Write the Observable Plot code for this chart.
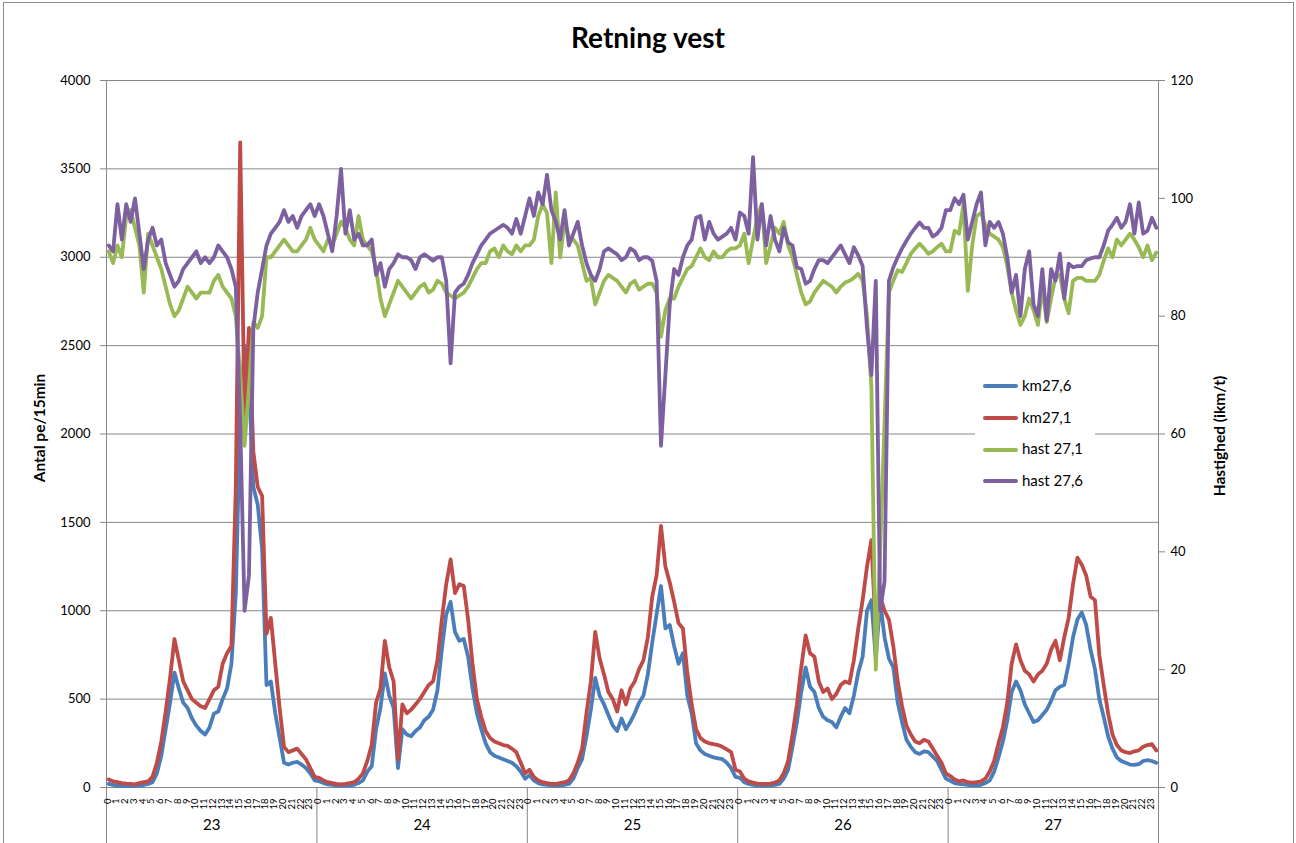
<!DOCTYPE html>
<html><head><meta charset="utf-8">
<script src="https://cdn.jsdelivr.net/npm/d3@7"></script>
<script src="https://cdn.jsdelivr.net/npm/@observablehq/plot@0.6"></script>
<style>
body{margin:0;background:#fff;}
#wrap{position:relative;width:1296px;height:843px;font-family:Lato,"Open Sans",sans-serif;overflow:hidden;}
#border{position:absolute;left:3px;top:2px;right:2px;bottom:-5px;border:1px solid #8c8c8c;pointer-events:none;}
#title{position:absolute;left:0;width:1296px;top:20px;text-align:center;font-weight:bold;font-size:28px;color:#000;}
#legend{position:absolute;left:975px;top:366px;width:120px;height:132px;background:#fff;}
.item{position:absolute;left:8px;height:20px;line-height:20px;font-size:15px;color:#000;white-space:nowrap;}
.sw{display:inline-block;width:35px;height:4px;border-radius:2px;vertical-align:middle;margin-right:4px;position:relative;top:-1px;}
</style></head>
<body><div id="wrap"><div id="border"></div><div id="title">Retning vest</div></div>
<script>
// ---- data (half-hour samples, 48 per day, days 23..27) ----
const days = ["23","24","25","26","27"];
const hourLabels = ["0","1","2","3","4","5","6","7","8","9","10","11","12","13","14","15","16","17","18","19","20","21","22","23"];
const yTicks = [0,500,1000,1500,2000,2500,3000,3500,4000];
const speedTicks = [0,20,40,60,80,100,120];

const km276 = [
 20,15, 12,10, 8,8, 10,10, 15,20, 30,80, 180,330, 480,650, 560,480, 450,390, 350,320, 300,340, 418,430, 500,560, 700,1100, 2100,2500, 2300,1700, 1600,1350, 580,600, 420,280, 140,130, 140,145, 130,110, 80,40,
 35,25, 18,15, 12,10, 10,12, 15,25, 40,90, 120,330, 450,645, 520,450, 110,330, 300,290, 320,340, 380,400, 440,550, 780,980, 1050,880, 830,840, 740,560, 420,330, 250,200, 180,170, 160,150, 140,120, 90,50,
 70,40, 25,18, 15,12, 10,12, 15,20, 50,110, 160,290, 440,620, 520,470, 410,350, 320,390, 330,370, 420,480, 520,640, 820,980, 1140,900, 920,800, 700,760, 520,420, 250,210, 190,180, 170,165, 160,140, 110,60,
 55,30, 20,15, 12,10, 10,12, 15,20, 50,100, 230,370, 540,680, 570,540, 450,400, 380,370, 340,400, 450,420, 520,650, 740,1000, 1060,730, 1050,850, 730,680, 480,370, 270,230, 200,190, 205,200, 175,150, 100,50,
 38,25, 20,18, 15,12, 12,15, 25,40, 90,170, 260,380, 540,600, 550,470, 420,370, 380,410, 440,490, 550,570, 580,700, 850,950, 990,920, 780,670, 500,400, 290,220, 170,150, 140,130, 128,132, 150,155, 150,140
];
const km271 = [
 45,35, 30,25, 22,20, 18,25, 30,35, 60,140, 260,430, 620,840, 720,600, 550,500, 480,460, 450,500, 550,570, 700,760, 800,1700, 3650,2100, 2600,1900, 1700,1650, 870,960, 700,450, 230,200, 210,220, 190,160, 110,60,
 55,40, 30,25, 20,18, 20,25, 30,50, 80,150, 240,480, 560,830, 680,600, 160,470, 420,440, 470,500, 540,580, 600,720, 950,1150, 1290,1100, 1150,1140, 950,700, 500,400, 320,280, 260,250, 240,235, 220,200, 140,80,
 100,60, 40,30, 25,20, 20,25, 30,40, 80,140, 220,420, 600,880, 730,640, 540,500, 430,550, 470,560, 600,670, 720,850, 1080,1200, 1480,1250, 1160,1050, 930,900, 650,470, 330,280, 260,250, 245,240, 230,215, 200,100,
 90,50, 35,28, 22,20, 20,22, 28,40, 80,150, 300,470, 680,860, 760,740, 600,540, 560,500, 530,580, 600,590, 720,900, 1060,1250, 1400,870, 1080,1000, 950,800, 600,460, 350,300, 260,250, 270,260, 220,180, 140,80,
 65,45, 35,40, 30,28, 30,35, 50,90, 150,250, 340,480, 700,810, 720,660, 640,600, 640,660, 700,780, 830,720, 850,960, 1150,1300, 1260,1200, 1080,1060, 750,580, 420,300, 240,210, 200,195, 205,210, 230,240, 245,210
];
const hast271 = [
 91,89, 92,90, 97,98, 95,92, 84,94, 92,90, 88,85, 82,80, 81,83, 85,84, 83,84, 84,84, 86,87, 85,84, 83,80, 70,58, 68,79, 78,80, 90,90, 91,92, 93,92, 91,91, 92,93, 95,93,
 92,91, 93,92, 94,96, 95,93, 92,97, 93,92, 91,88, 83,80, 82,84, 86,85, 84,83, 84,85, 85.5,84, 84.5,86, 85.5,84, 83.5,83, 83.5,84, 85,86.5, 88,89, 89,91, 91.5,90, 92,91, 90.5,92, 91,92,
 92,93, 97,99, 97.5,89, 101,90, 96,93.5, 93,92, 89,86, 86.5,82, 84,86, 87,86.5, 86,85, 84,85.5, 86,84.5, 85,85.5, 85.5,84, 76.5,81, 83,83, 85,86.5, 88,88.5, 90,91.5, 90,89.5, 91,90, 90,91, 91.5,91.5,
 92,94, 89,93, 97,99, 89,92, 95,94, 96,92, 90,87, 84,82, 82.5,84, 85,86, 85.5,85, 84,85, 85.7,86, 86.5,87.2, 86,80, 68,20, 40,62, 84,86, 87.8,87.5, 89,90.6, 91.5,92.3, 91.5,90.6, 91,91.7, 92.3,91,
 91,94.5, 94,99, 84.3,92, 97,97.5, 95.5,94, 93.5,93, 91.7,88.5, 84,81, 78.5,80, 83,81, 78.5,85, 79,83, 86.6,87, 83,80.5, 86,86.5, 86.5,86, 86,86, 87,89.4, 91.5,90, 93,92, 93,94, 93,91.7, 90,92, 89.5,90.8
];
const hast276 = [
 92,91, 99,93, 99,96, 100,94, 88,93, 95,92, 93,89, 87,85, 86,88, 89,90, 91,89, 90,89, 90,92, 91,90, 88,85, 62,30, 36,78, 84,88, 92,94, 95,96, 98,96, 97,95, 97,98, 99,97,
 99,97, 94,91, 97,105, 94,98, 93,94, 92,92, 93,87, 89,85, 88,89, 90.5,90, 90,89.5, 88,90, 90.5,90, 89.4,90, 90,86, 72,84, 85,85.5, 87,89, 90.5,92, 93,94, 94.5,95, 95.5,95, 94,96.5, 94,97,
 100,97, 101,99, 104,98, 96,93, 98,92, 94,96, 92,89, 87,86, 88,91, 91.5,91, 90.5,89.5, 90,91.5, 91,89.5, 90,90, 89.4,86, 58,70, 82,88, 87,90, 92,93, 96.7,97, 93,96, 94,93, 93.5,94, 95,93,
 97.6,97, 94,107, 93,99, 92,97, 93,91, 95,92.5, 92,88.3, 88,85.5, 86,88, 89.5,89.5, 89,90, 91,92, 90.5,89, 91.7,90.3, 88.5,78, 70,86, 30,35, 86,88.3, 90,91.5, 92.8,94, 95,95.9, 95,95, 93.5,94, 95,98,
 98,100, 99,100.6, 93,96, 99,101, 92,96, 95,96, 94,90, 84,87, 80,88, 91,82, 80,88, 79.3,88, 86,90.6, 83,88.9, 88.3,88.5, 88.5,89.5, 89.8,90, 90,92, 94.5,95.5, 96.7,95, 96,99, 94,99.3, 94,94.5, 96.7,95
];

const series = [
  {name:"km27,6",   values:km276,  color:"#4a7ebb", speed:false},
  {name:"km27,1",   values:km271,  color:"#be4b48", speed:false},
  {name:"hast 27,1",values:hast271,color:"#98b954", speed:true},
  {name:"hast 27,6",values:hast276,color:"#7d60a0", speed:true}
];

// ---- scales helpers ----
const perDay = 96;                 // 15-minute categories per day
const nCat = perDay * days.length; // 480
const k = 4000 / 120;              // speed -> left-axis units
const slotX = (d, i) => 2 * i + 1; // half-hour sample centre in category units

const hourTicks = [];
days.forEach((day, di) => hourLabels.forEach((h, hi) => hourTicks.push({pos: di*perDay + hi*4 + 0.5, label: h})));
const dayBounds = d3.range(1, days.length).map(i => i * perDay);

const grid = "#868686";
const lineMarks = series.map(s => Plot.lineY(s.values, {
  x: slotX,
  y: s.speed ? (d => d * k) : (d => d),
  stroke: s.color, strokeWidth: 3.8, strokeLinejoin: "round", strokeLinecap: "round"
}));

const chart = Plot.plot({
  width: 1296, height: 843,
  marginLeft: 106, marginRight: 138, marginTop: 80, marginBottom: 56,
  x: {domain: [0, nCat], axis: null},
  y: {domain: [0, 4000], axis: null},
  style: {fontFamily: "Lato, 'Open Sans', sans-serif", fontSize: "13px", background: "transparent", overflow: "visible"},
  marks: [
    Plot.gridY(yTicks, {stroke: grid, strokeOpacity: 1, strokeWidth: 1}),
    Plot.ruleY([0], {stroke: grid}),
    Plot.ruleX([0], {stroke: grid, insetBottom: -56}),
    Plot.ruleX([nCat], {stroke: grid}),
    Plot.ruleX([...dayBounds, nCat], {stroke: grid, insetTop: 707, insetBottom: -56}),
    Plot.axisY(yTicks, {anchor: "left", tickSize: 6, tickPadding: 10, stroke: grid, fontSize: 13, label: null, tickFormat: d => String(d)}),
    Plot.axisY(speedTicks.map(s => s * k), {anchor: "right", tickSize: 6, tickPadding: 6, stroke: grid, fontSize: 13, label: null, tickFormat: d => String(Math.round(d / k))}),
    ...lineMarks,
    Plot.text(hourTicks, {x: "pos", text: "label", frameAnchor: "bottom", rotate: -90, textAnchor: "end", lineAnchor: "middle", dy: 11, fontSize: 9.5}),
    Plot.text(days, {x: (d, i) => i * perDay + perDay / 2, text: d => d, frameAnchor: "bottom", dy: 42, fontSize: 15}),
    Plot.text(["Antal pe/15min"], {frameAnchor: "left", textAnchor: "middle", dx: -66, dy: -6, rotate: -90, fontWeight: "bold", fontSize: 15.5}),
    Plot.text(["Hastighed (ikm/t)"], {frameAnchor: "right", textAnchor: "middle", dx: 62, dy: 2, rotate: -90, fontWeight: "bold", fontSize: 15.5})
  ]
});
chart.style.position = "absolute";
chart.style.left = "0px";
chart.style.top = "0px";
const wrap = document.getElementById("wrap");
wrap.insertBefore(chart, wrap.firstChild);

// legend (HTML overlay, white box)
const legend = document.createElement("div");
legend.id = "legend";
series.forEach((s, i) => {
  const it = document.createElement("div");
  it.className = "item";
  it.style.top = (9 + i * 31.7) + "px";
  const sw = document.createElement("span");
  sw.className = "sw";
  sw.style.background = s.color;
  it.appendChild(sw);
  it.appendChild(document.createTextNode(s.name));
  legend.appendChild(it);
});
wrap.appendChild(legend);
</script>
</body></html>
